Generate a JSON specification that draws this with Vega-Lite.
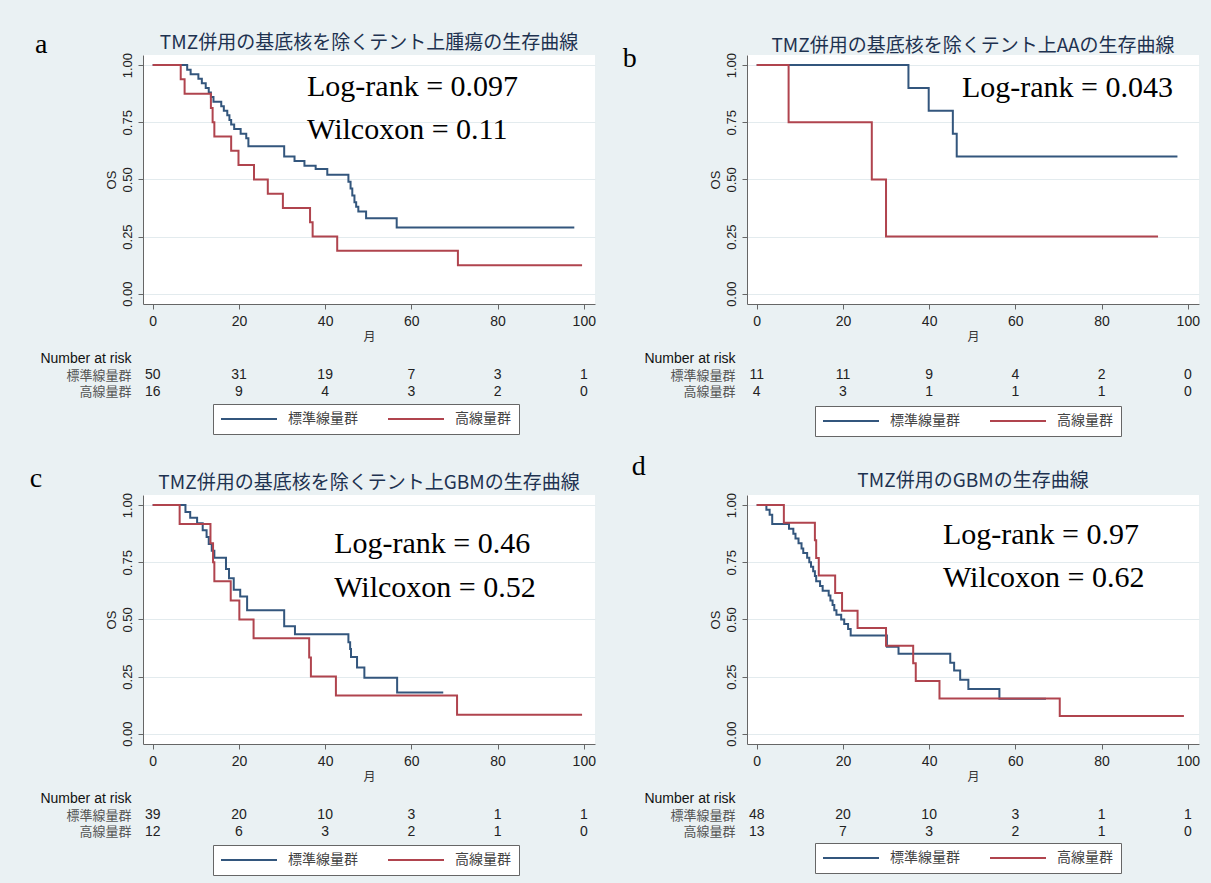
{
  "$schema": "https://vega.github.io/schema/vega-lite/v6.json",
  "autosize": {"type": "none"},
  "padding": {"left": 143, "top": 55, "right": 1068, "bottom": 828},
  "background": "#eaf1f3",
  "config": {
    "view": {"stroke": null},
    "axis": {"labelFont": "Liberation Sans", "titleFont": "Liberation Sans"}
  },
  "datasets": {
    "curves": [
      {"p":"a","g":"標準線量群","t":0,"s":1},{"p":"a","g":"標準線量群","t":8.0,"s":0.98},{"p":"a","g":"標準線量群","t":8.8,"s":0.96},{"p":"a","g":"標準線量群","t":10.6,"s":0.94},{"p":"a","g":"標準線量群","t":11.4,"s":0.92},{"p":"a","g":"標準線量群","t":12.3,"s":0.90},{"p":"a","g":"標準線量群","t":13.0,"s":0.88},{"p":"a","g":"標準線量群","t":13.5,"s":0.86},{"p":"a","g":"標準線量群","t":14.1,"s":0.84},{"p":"a","g":"標準線量群","t":15.9,"s":0.82},{"p":"a","g":"標準線量群","t":16.5,"s":0.80},{"p":"a","g":"標準線量群","t":17.3,"s":0.78},{"p":"a","g":"標準線量群","t":17.8,"s":0.76},{"p":"a","g":"標準線量群","t":18.2,"s":0.74},{"p":"a","g":"標準線量群","t":18.9,"s":0.72},{"p":"a","g":"標準線量群","t":20.4,"s":0.70},{"p":"a","g":"標準線量群","t":21.7,"s":0.68},{"p":"a","g":"標準線量群","t":22.2,"s":0.645},{"p":"a","g":"標準線量群","t":30.5,"s":0.60},{"p":"a","g":"標準線量群","t":32.9,"s":0.58},{"p":"a","g":"標準線量群","t":35.2,"s":0.56},{"p":"a","g":"標準線量群","t":37.8,"s":0.545},{"p":"a","g":"標準線量群","t":40.5,"s":0.52},{"p":"a","g":"標準線量群","t":45.4,"s":0.49},{"p":"a","g":"標準線量群","t":45.9,"s":0.46},{"p":"a","g":"標準線量群","t":46.3,"s":0.43},{"p":"a","g":"標準線量群","t":46.8,"s":0.40},{"p":"a","g":"標準線量群","t":47.2,"s":0.38},{"p":"a","g":"標準線量群","t":47.7,"s":0.36},{"p":"a","g":"標準線量群","t":49.5,"s":0.33},{"p":"a","g":"標準線量群","t":56.6,"s":0.29},{"p":"a","g":"標準線量群","t":97.8,"s":0.29},
      {"p":"a","g":"高線量群","t":0,"s":1},{"p":"a","g":"高線量群","t":6.5,"s":0.9375},{"p":"a","g":"高線量群","t":7.4,"s":0.875},{"p":"a","g":"高線量群","t":13.5,"s":0.8125},{"p":"a","g":"高線量群","t":13.9,"s":0.75},{"p":"a","g":"高線量群","t":14.3,"s":0.6875},{"p":"a","g":"高線量群","t":18.2,"s":0.625},{"p":"a","g":"高線量群","t":19.9,"s":0.5625},{"p":"a","g":"高線量群","t":23.5,"s":0.5},{"p":"a","g":"高線量群","t":26.7,"s":0.4375},{"p":"a","g":"高線量群","t":30.2,"s":0.375},{"p":"a","g":"高線量群","t":36.5,"s":0.3125},{"p":"a","g":"高線量群","t":37.1,"s":0.25},{"p":"a","g":"高線量群","t":42.8,"s":0.1875},{"p":"a","g":"高線量群","t":70.8,"s":0.125},{"p":"a","g":"高線量群","t":99.6,"s":0.125},
      {"p":"b","g":"標準線量群","t":0,"s":1},{"p":"b","g":"標準線量群","t":35.2,"s":0.9},{"p":"b","g":"標準線量群","t":39.9,"s":0.8},{"p":"b","g":"標準線量群","t":45.5,"s":0.7},{"p":"b","g":"標準線量群","t":46.4,"s":0.6},{"p":"b","g":"標準線量群","t":97.6,"s":0.6},
      {"p":"b","g":"高線量群","t":0,"s":1},{"p":"b","g":"高線量群","t":7.4,"s":0.75},{"p":"b","g":"高線量群","t":26.7,"s":0.5},{"p":"b","g":"高線量群","t":30.0,"s":0.25},{"p":"b","g":"高線量群","t":93.1,"s":0.25},
      {"p":"c","g":"標準線量群","t":0,"s":1},{"p":"c","g":"標準線量群","t":7.6,"s":0.97},{"p":"c","g":"標準線量群","t":8.7,"s":0.945},{"p":"c","g":"標準線量群","t":10.3,"s":0.92},{"p":"c","g":"標準線量群","t":11.6,"s":0.89},{"p":"c","g":"標準線量群","t":12.5,"s":0.86},{"p":"c","g":"標準線量群","t":13.0,"s":0.83},{"p":"c","g":"標準線量群","t":13.7,"s":0.80},{"p":"c","g":"標準線量群","t":14.3,"s":0.77},{"p":"c","g":"標準線量群","t":17.0,"s":0.72},{"p":"c","g":"標準線量群","t":17.7,"s":0.68},{"p":"c","g":"標準線量群","t":18.8,"s":0.63},{"p":"c","g":"標準線量群","t":20.3,"s":0.60},{"p":"c","g":"標準線量群","t":21.9,"s":0.54},{"p":"c","g":"標準線量群","t":30.5,"s":0.47},{"p":"c","g":"標準線量群","t":33.0,"s":0.435},{"p":"c","g":"標準線量群","t":45.4,"s":0.40},{"p":"c","g":"標準線量群","t":45.8,"s":0.37},{"p":"c","g":"標準線量群","t":46.0,"s":0.335},{"p":"c","g":"標準線量群","t":47.4,"s":0.29},{"p":"c","g":"標準線量群","t":49.1,"s":0.245},{"p":"c","g":"標準線量群","t":56.7,"s":0.18},{"p":"c","g":"標準線量群","t":67.4,"s":0.18},
      {"p":"c","g":"高線量群","t":0,"s":1},{"p":"c","g":"高線量群","t":6.25,"s":0.917},{"p":"c","g":"高線量群","t":13.4,"s":0.833},{"p":"c","g":"高線量群","t":14.0,"s":0.75},{"p":"c","g":"高線量群","t":14.3,"s":0.667},{"p":"c","g":"高線量群","t":18.1,"s":0.583},{"p":"c","g":"高線量群","t":20.1,"s":0.5},{"p":"c","g":"高線量群","t":23.4,"s":0.417},{"p":"c","g":"高線量群","t":36.3,"s":0.333},{"p":"c","g":"高線量群","t":36.7,"s":0.25},{"p":"c","g":"高線量群","t":42.5,"s":0.167},{"p":"c","g":"高線量群","t":70.6,"s":0.083},{"p":"c","g":"高線量群","t":99.6,"s":0.083},
      {"p":"d","g":"標準線量群","t":0,"s":1},{"p":"d","g":"標準線量群","t":2.25,"s":0.979},{"p":"d","g":"標準線量群","t":3.0,"s":0.958},{"p":"d","g":"標準線量群","t":3.6,"s":0.917},{"p":"d","g":"標準線量群","t":7.5,"s":0.896},{"p":"d","g":"標準線量群","t":8.5,"s":0.875},{"p":"d","g":"標準線量群","t":9.0,"s":0.854},{"p":"d","g":"標準線量群","t":9.7,"s":0.833},{"p":"d","g":"標準線量群","t":10.4,"s":0.81},{"p":"d","g":"標準線量群","t":10.8,"s":0.79},{"p":"d","g":"標準線量群","t":11.7,"s":0.77},{"p":"d","g":"標準線量群","t":12.2,"s":0.75},{"p":"d","g":"標準線量群","t":12.6,"s":0.73},{"p":"d","g":"標準線量群","t":13.1,"s":0.71},{"p":"d","g":"標準線量群","t":13.5,"s":0.69},{"p":"d","g":"標準線量群","t":13.8,"s":0.667},{"p":"d","g":"標準線量群","t":14.7,"s":0.646},{"p":"d","g":"標準線量群","t":15.3,"s":0.625},{"p":"d","g":"標準線量群","t":16.7,"s":0.604},{"p":"d","g":"標準線量群","t":17.1,"s":0.583},{"p":"d","g":"標準線量群","t":17.6,"s":0.563},{"p":"d","g":"標準線量群","t":18.0,"s":0.54},{"p":"d","g":"標準線量群","t":18.5,"s":0.52},{"p":"d","g":"標準線量群","t":19.6,"s":0.50},{"p":"d","g":"標準線量群","t":20.3,"s":0.48},{"p":"d","g":"標準線量群","t":21.2,"s":0.458},{"p":"d","g":"標準線量群","t":21.8,"s":0.43},{"p":"d","g":"標準線量群","t":30.2,"s":0.38},{"p":"d","g":"標準線量群","t":32.9,"s":0.35},{"p":"d","g":"標準線量群","t":44.9,"s":0.31},{"p":"d","g":"標準線量群","t":45.8,"s":0.276},{"p":"d","g":"標準線量群","t":47.2,"s":0.236},{"p":"d","g":"標準線量群","t":49.1,"s":0.196},{"p":"d","g":"標準線量群","t":56.3,"s":0.153},{"p":"d","g":"標準線量群","t":67.1,"s":0.153},
      {"p":"d","g":"高線量群","t":0,"s":1},{"p":"d","g":"高線量群","t":6.3,"s":0.923},{"p":"d","g":"高線量群","t":13.5,"s":0.846},{"p":"d","g":"高線量群","t":13.8,"s":0.769},{"p":"d","g":"高線量群","t":14.4,"s":0.692},{"p":"d","g":"高線量群","t":18.2,"s":0.615},{"p":"d","g":"高線量群","t":19.8,"s":0.538},{"p":"d","g":"高線量群","t":23.4,"s":0.462},{"p":"d","g":"高線量群","t":30.0,"s":0.385},{"p":"d","g":"高線量群","t":36.3,"s":0.308},{"p":"d","g":"高線量群","t":36.9,"s":0.231},{"p":"d","g":"高線量群","t":42.4,"s":0.154},{"p":"d","g":"高線量群","t":70.3,"s":0.077},{"p":"d","g":"高線量群","t":99.1,"s":0.077}
    ],
    "risk": [
      {"p":"a","g":"標準線量群","t":0,"n":50},{"p":"a","g":"標準線量群","t":20,"n":31},{"p":"a","g":"標準線量群","t":40,"n":19},{"p":"a","g":"標準線量群","t":60,"n":7},{"p":"a","g":"標準線量群","t":80,"n":3},{"p":"a","g":"標準線量群","t":100,"n":1},
      {"p":"a","g":"高線量群","t":0,"n":16},{"p":"a","g":"高線量群","t":20,"n":9},{"p":"a","g":"高線量群","t":40,"n":4},{"p":"a","g":"高線量群","t":60,"n":3},{"p":"a","g":"高線量群","t":80,"n":2},{"p":"a","g":"高線量群","t":100,"n":0},
      {"p":"b","g":"標準線量群","t":0,"n":11},{"p":"b","g":"標準線量群","t":20,"n":11},{"p":"b","g":"標準線量群","t":40,"n":9},{"p":"b","g":"標準線量群","t":60,"n":4},{"p":"b","g":"標準線量群","t":80,"n":2},{"p":"b","g":"標準線量群","t":100,"n":0},
      {"p":"b","g":"高線量群","t":0,"n":4},{"p":"b","g":"高線量群","t":20,"n":3},{"p":"b","g":"高線量群","t":40,"n":1},{"p":"b","g":"高線量群","t":60,"n":1},{"p":"b","g":"高線量群","t":80,"n":1},{"p":"b","g":"高線量群","t":100,"n":0},
      {"p":"c","g":"標準線量群","t":0,"n":39},{"p":"c","g":"標準線量群","t":20,"n":20},{"p":"c","g":"標準線量群","t":40,"n":10},{"p":"c","g":"標準線量群","t":60,"n":3},{"p":"c","g":"標準線量群","t":80,"n":1},{"p":"c","g":"標準線量群","t":100,"n":1},
      {"p":"c","g":"高線量群","t":0,"n":12},{"p":"c","g":"高線量群","t":20,"n":6},{"p":"c","g":"高線量群","t":40,"n":3},{"p":"c","g":"高線量群","t":60,"n":2},{"p":"c","g":"高線量群","t":80,"n":1},{"p":"c","g":"高線量群","t":100,"n":0},
      {"p":"d","g":"標準線量群","t":0,"n":48},{"p":"d","g":"標準線量群","t":20,"n":20},{"p":"d","g":"標準線量群","t":40,"n":10},{"p":"d","g":"標準線量群","t":60,"n":3},{"p":"d","g":"標準線量群","t":80,"n":1},{"p":"d","g":"標準線量群","t":100,"n":1},
      {"p":"d","g":"高線量群","t":0,"n":13},{"p":"d","g":"高線量群","t":20,"n":7},{"p":"d","g":"高線量群","t":40,"n":3},{"p":"d","g":"高線量群","t":60,"n":2},{"p":"d","g":"高線量群","t":80,"n":1},{"p":"d","g":"高線量群","t":100,"n":0}
    ],
    "notes": [
      {"p":"a","k":"stat","label":"Log-rank = 0.097","t":35.8,"s":0.904},
      {"p":"a","k":"stat","label":"Wilcoxon = 0.11","t":35.8,"s":0.716},
      {"p":"a","k":"letter","label":"a","t":-27.3,"s":1.051},
      {"p":"b","k":"stat","label":"Log-rank = 0.043","t":47.6,"s":0.90},
      {"p":"b","k":"letter","label":"b","t":-31.1,"s":0.99},
      {"p":"c","k":"stat","label":"Log-rank = 0.46","t":42.1,"s":0.830},
      {"p":"c","k":"stat","label":"Wilcoxon = 0.52","t":42.1,"s":0.637},
      {"p":"c","k":"letter","label":"c","t":-28.5,"s":1.080},
      {"p":"d","k":"stat","label":"Log-rank = 0.97","t":43.2,"s":0.869},
      {"p":"d","k":"stat","label":"Wilcoxon = 0.62","t":43.2,"s":0.681},
      {"p":"d","k":"letter","label":"d","t":-29.0,"s":1.131}
    ]
  },
  "columns": 2,
  "spacing": {"row": 46, "column": 152},
  "bounds": "flush",
  "resolve": {"scale": {"color": "independent"}},
  "concat": [
    {
      "title": {"text": "TMZ併用の基底核を除くテント上腫瘍の生存曲線", "font": "Noto Sans CJK JP", "fontSize": 19, "fontWeight": "normal", "color": "#1e3250", "anchor": "middle", "frame": "group", "offset": -22},
      "width": 452, "height": 249,
      "view": {"fill": "white", "stroke": null},
      "layer": [
        {
          "data": {"name": "curves"},
          "transform": [{"filter": "datum.p === 'a'"}],
          "mark": {"type": "line", "interpolate": "step-after", "strokeWidth": 2},
          "encoding": {
            "x": {"field": "t", "type": "quantitative", "scale": {"domain": [-2.25, 102.6], "nice": false, "zero": false},
              "axis": {"values": [0,20,40,60,80,100], "grid": false, "title": "月", "titleFont": "Noto Sans CJK JP", "titleFontSize": 12, "titleFontWeight": "normal", "titleColor": "#333", "titlePadding": 3, "labelFontSize": 14, "labelColor": "#222", "labelPadding": 5, "tickSize": 5, "tickColor": "#666", "domainColor": "#666"}},
            "y": {"field": "s", "type": "quantitative", "scale": {"domain": [-0.045, 1.044], "nice": false, "zero": false},
              "axis": {"values": [0,0.25,0.5,0.75,1], "format": ".2f", "labelAngle": -90, "labelAlign": "center", "labelBaseline": "bottom", "labelFontSize": 13, "labelColor": "#222", "labelPadding": 4, "tickSize": 5, "tickColor": "#666", "domainColor": "#666", "grid": true, "gridColor": "#e3ebee", "gridWidth": 1.2, "title": "OS", "titleFontSize": 13, "titleFontWeight": "normal", "titleColor": "#222", "titlePadding": 3}},
            "color": {"field": "g", "type": "nominal", "scale": {"domain": ["標準線量群","高線量群"], "range": ["#33567d","#b0444e"]},
              "legend": {"orient": "none", "legendX": 70, "legendY": 349, "direction": "horizontal", "title": null, "symbolType": "M-7,0H7", "symbolSize": 64, "symbolStrokeWidth": 2, "symbolOffset": 21, "labelOffset": 32, "labelFont": "Noto Sans CJK JP", "labelFontSize": 14, "labelColor": "#444", "columnPadding": 26, "padding": 8, "strokeColor": "#666", "fillColor": "white"}}
          }
        },
        {
          "data": {"name": "notes"},
          "transform": [{"filter": "datum.p === 'a' && datum.k === 'stat'"}],
          "mark": {"type": "text", "font": "Liberation Serif", "fontSize": 30, "align": "left", "baseline": "middle", "color": "#000"},
          "encoding": {"x": {"field": "t", "type": "quantitative"}, "y": {"field": "s", "type": "quantitative"}, "text": {"field": "label"}}
        },
        {
          "data": {"name": "notes"},
          "transform": [{"filter": "datum.p === 'a' && datum.k === 'letter'"}],
          "mark": {"type": "text", "font": "Liberation Serif", "fontSize": 28, "align": "left", "baseline": "alphabetic", "color": "#000"},
          "encoding": {"x": {"field": "t", "type": "quantitative"}, "y": {"field": "s", "type": "quantitative"}, "text": {"field": "label"}}
        }
      ]
    },
    {
      "title": {"text": "TMZ併用の基底核を除くテント上AAの生存曲線", "font": "Noto Sans CJK JP", "fontSize": 19, "fontWeight": "normal", "color": "#1e3250", "anchor": "middle", "frame": "group", "offset": -11},
      "width": 452, "height": 249,
      "view": {"fill": "white", "stroke": null},
      "layer": [
        {
          "data": {"name": "curves"},
          "transform": [{"filter": "datum.p === 'b'"}],
          "mark": {"type": "line", "interpolate": "step-after", "strokeWidth": 2},
          "encoding": {
            "x": {"field": "t", "type": "quantitative", "scale": {"domain": [-2.25, 102.6], "nice": false, "zero": false},
              "axis": {"values": [0,20,40,60,80,100], "grid": false, "title": "月", "titleFont": "Noto Sans CJK JP", "titleFontSize": 12, "titleFontWeight": "normal", "titleColor": "#333", "titlePadding": 3, "labelFontSize": 14, "labelColor": "#222", "labelPadding": 5, "tickSize": 5, "tickColor": "#666", "domainColor": "#666"}},
            "y": {"field": "s", "type": "quantitative", "scale": {"domain": [-0.045, 1.044], "nice": false, "zero": false},
              "axis": {"values": [0,0.25,0.5,0.75,1], "format": ".2f", "labelAngle": -90, "labelAlign": "center", "labelBaseline": "bottom", "labelFontSize": 13, "labelColor": "#222", "labelPadding": 4, "tickSize": 5, "tickColor": "#666", "domainColor": "#666", "grid": true, "gridColor": "#e3ebee", "gridWidth": 1.2, "title": "OS", "titleFontSize": 13, "titleFontWeight": "normal", "titleColor": "#222", "titlePadding": 3}},
            "color": {"field": "g", "type": "nominal", "scale": {"domain": ["標準線量群","高線量群"], "range": ["#33567d","#b0444e"]},
              "legend": {"orient": "none", "legendX": 68, "legendY": 351, "direction": "horizontal", "title": null, "symbolType": "M-7,0H7", "symbolSize": 64, "symbolStrokeWidth": 2, "symbolOffset": 21, "labelOffset": 32, "labelFont": "Noto Sans CJK JP", "labelFontSize": 14, "labelColor": "#444", "columnPadding": 26, "padding": 8, "strokeColor": "#666", "fillColor": "white"}}
          }
        },
        {
          "data": {"name": "notes"},
          "transform": [{"filter": "datum.p === 'b' && datum.k === 'stat'"}],
          "mark": {"type": "text", "font": "Liberation Serif", "fontSize": 30, "align": "left", "baseline": "middle", "color": "#000"},
          "encoding": {"x": {"field": "t", "type": "quantitative"}, "y": {"field": "s", "type": "quantitative"}, "text": {"field": "label"}}
        },
        {
          "data": {"name": "notes"},
          "transform": [{"filter": "datum.p === 'b' && datum.k === 'letter'"}],
          "mark": {"type": "text", "font": "Liberation Serif", "fontSize": 28, "align": "left", "baseline": "alphabetic", "color": "#000"},
          "encoding": {"x": {"field": "t", "type": "quantitative"}, "y": {"field": "s", "type": "quantitative"}, "text": {"field": "label"}}
        }
      ]
    },
    {
      "width": 452, "height": 99,
      "data": {"name": "risk"},
      "transform": [{"filter": "datum.p === 'a'"}],
      "mark": {"type": "text", "font": "Liberation Sans", "fontSize": 14, "color": "#222"},
      "encoding": {
        "x": {"field": "t", "type": "quantitative", "scale": {"domain": [-2.25, 102.6], "nice": false, "zero": false}, "axis": null},
        "y": {"field": "g", "type": "nominal", "scale": {"type": "point", "domain": ["Number at risk","標準線量群","高線量群"], "padding": 0.5, "range": [0, 50]},
          "axis": {"title": null, "domain": false, "ticks": false, "labelPadding": 12, "labelLimit": 300,
            "labelFontSize": {"condition": {"test": "datum.value === 'Number at risk'", "value": 14}, "value": 13},
            "labelFont": {"condition": {"test": "datum.value === 'Number at risk'", "value": "Liberation Sans"}, "value": "Noto Sans CJK JP"},
            "labelColor": {"condition": {"test": "datum.value === 'Number at risk'", "value": "#111"}, "value": "#555"}}},
        "text": {"field": "n", "type": "quantitative"}
      }
    },
    {
      "width": 452, "height": 99,
      "data": {"name": "risk"},
      "transform": [{"filter": "datum.p === 'b'"}],
      "mark": {"type": "text", "font": "Liberation Sans", "fontSize": 14, "color": "#222"},
      "encoding": {
        "x": {"field": "t", "type": "quantitative", "scale": {"domain": [-2.25, 102.6], "nice": false, "zero": false}, "axis": null},
        "y": {"field": "g", "type": "nominal", "scale": {"type": "point", "domain": ["Number at risk","標準線量群","高線量群"], "padding": 0.5, "range": [0, 50]},
          "axis": {"title": null, "domain": false, "ticks": false, "labelPadding": 12, "labelLimit": 300,
            "labelFontSize": {"condition": {"test": "datum.value === 'Number at risk'", "value": 14}, "value": 13},
            "labelFont": {"condition": {"test": "datum.value === 'Number at risk'", "value": "Liberation Sans"}, "value": "Noto Sans CJK JP"},
            "labelColor": {"condition": {"test": "datum.value === 'Number at risk'", "value": "#111"}, "value": "#555"}}},
        "text": {"field": "n", "type": "quantitative"}
      }
    },
    {
      "title": {"text": "TMZ併用の基底核を除くテント上GBMの生存曲線", "font": "Noto Sans CJK JP", "fontSize": 19, "fontWeight": "normal", "color": "#1e3250", "anchor": "middle", "frame": "group", "offset": -28},
      "width": 452, "height": 249,
      "view": {"fill": "white", "stroke": null},
      "layer": [
        {
          "data": {"name": "curves"},
          "transform": [{"filter": "datum.p === 'c'"}],
          "mark": {"type": "line", "interpolate": "step-after", "strokeWidth": 2},
          "encoding": {
            "x": {"field": "t", "type": "quantitative", "scale": {"domain": [-2.25, 102.6], "nice": false, "zero": false},
              "axis": {"values": [0,20,40,60,80,100], "grid": false, "title": "月", "titleFont": "Noto Sans CJK JP", "titleFontSize": 12, "titleFontWeight": "normal", "titleColor": "#333", "titlePadding": 3, "labelFontSize": 14, "labelColor": "#222", "labelPadding": 5, "tickSize": 5, "tickColor": "#666", "domainColor": "#666"}},
            "y": {"field": "s", "type": "quantitative", "scale": {"domain": [-0.045, 1.044], "nice": false, "zero": false},
              "axis": {"values": [0,0.25,0.5,0.75,1], "format": ".2f", "labelAngle": -90, "labelAlign": "center", "labelBaseline": "bottom", "labelFontSize": 13, "labelColor": "#222", "labelPadding": 4, "tickSize": 5, "tickColor": "#666", "domainColor": "#666", "grid": true, "gridColor": "#e3ebee", "gridWidth": 1.2, "title": "OS", "titleFontSize": 13, "titleFontWeight": "normal", "titleColor": "#222", "titlePadding": 3}},
            "color": {"field": "g", "type": "nominal", "scale": {"domain": ["標準線量群","高線量群"], "range": ["#33567d","#b0444e"]},
              "legend": {"orient": "none", "legendX": 70, "legendY": 350, "direction": "horizontal", "title": null, "symbolType": "M-7,0H7", "symbolSize": 64, "symbolStrokeWidth": 2, "symbolOffset": 21, "labelOffset": 32, "labelFont": "Noto Sans CJK JP", "labelFontSize": 14, "labelColor": "#444", "columnPadding": 26, "padding": 8, "strokeColor": "#666", "fillColor": "white"}}
          }
        },
        {
          "data": {"name": "notes"},
          "transform": [{"filter": "datum.p === 'c' && datum.k === 'stat'"}],
          "mark": {"type": "text", "font": "Liberation Serif", "fontSize": 30, "align": "left", "baseline": "middle", "color": "#000"},
          "encoding": {"x": {"field": "t", "type": "quantitative"}, "y": {"field": "s", "type": "quantitative"}, "text": {"field": "label"}}
        },
        {
          "data": {"name": "notes"},
          "transform": [{"filter": "datum.p === 'c' && datum.k === 'letter'"}],
          "mark": {"type": "text", "font": "Liberation Serif", "fontSize": 28, "align": "left", "baseline": "alphabetic", "color": "#000"},
          "encoding": {"x": {"field": "t", "type": "quantitative"}, "y": {"field": "s", "type": "quantitative"}, "text": {"field": "label"}}
        }
      ]
    },
    {
      "title": {"text": "TMZ併用のGBMの生存曲線", "font": "Noto Sans CJK JP", "fontSize": 19, "fontWeight": "normal", "color": "#1e3250", "anchor": "middle", "frame": "group", "offset": -38},
      "width": 452, "height": 249,
      "view": {"fill": "white", "stroke": null},
      "layer": [
        {
          "data": {"name": "curves"},
          "transform": [{"filter": "datum.p === 'd'"}],
          "mark": {"type": "line", "interpolate": "step-after", "strokeWidth": 2},
          "encoding": {
            "x": {"field": "t", "type": "quantitative", "scale": {"domain": [-2.25, 102.6], "nice": false, "zero": false},
              "axis": {"values": [0,20,40,60,80,100], "grid": false, "title": "月", "titleFont": "Noto Sans CJK JP", "titleFontSize": 12, "titleFontWeight": "normal", "titleColor": "#333", "titlePadding": 3, "labelFontSize": 14, "labelColor": "#222", "labelPadding": 5, "tickSize": 5, "tickColor": "#666", "domainColor": "#666"}},
            "y": {"field": "s", "type": "quantitative", "scale": {"domain": [-0.045, 1.044], "nice": false, "zero": false},
              "axis": {"values": [0,0.25,0.5,0.75,1], "format": ".2f", "labelAngle": -90, "labelAlign": "center", "labelBaseline": "bottom", "labelFontSize": 13, "labelColor": "#222", "labelPadding": 4, "tickSize": 5, "tickColor": "#666", "domainColor": "#666", "grid": true, "gridColor": "#e3ebee", "gridWidth": 1.2, "title": "OS", "titleFontSize": 13, "titleFontWeight": "normal", "titleColor": "#222", "titlePadding": 3}},
            "color": {"field": "g", "type": "nominal", "scale": {"domain": ["標準線量群","高線量群"], "range": ["#33567d","#b0444e"]},
              "legend": {"orient": "none", "legendX": 68, "legendY": 348, "direction": "horizontal", "title": null, "symbolType": "M-7,0H7", "symbolSize": 64, "symbolStrokeWidth": 2, "symbolOffset": 21, "labelOffset": 32, "labelFont": "Noto Sans CJK JP", "labelFontSize": 14, "labelColor": "#444", "columnPadding": 26, "padding": 8, "strokeColor": "#666", "fillColor": "white"}}
          }
        },
        {
          "data": {"name": "notes"},
          "transform": [{"filter": "datum.p === 'd' && datum.k === 'stat'"}],
          "mark": {"type": "text", "font": "Liberation Serif", "fontSize": 30, "align": "left", "baseline": "middle", "color": "#000"},
          "encoding": {"x": {"field": "t", "type": "quantitative"}, "y": {"field": "s", "type": "quantitative"}, "text": {"field": "label"}}
        },
        {
          "data": {"name": "notes"},
          "transform": [{"filter": "datum.p === 'd' && datum.k === 'letter'"}],
          "mark": {"type": "text", "font": "Liberation Serif", "fontSize": 28, "align": "left", "baseline": "alphabetic", "color": "#000"},
          "encoding": {"x": {"field": "t", "type": "quantitative"}, "y": {"field": "s", "type": "quantitative"}, "text": {"field": "label"}}
        }
      ]
    },
    {
      "width": 452, "height": 99,
      "data": {"name": "risk"},
      "transform": [{"filter": "datum.p === 'c'"}],
      "mark": {"type": "text", "font": "Liberation Sans", "fontSize": 14, "color": "#222"},
      "encoding": {
        "x": {"field": "t", "type": "quantitative", "scale": {"domain": [-2.25, 102.6], "nice": false, "zero": false}, "axis": null},
        "y": {"field": "g", "type": "nominal", "scale": {"type": "point", "domain": ["Number at risk","標準線量群","高線量群"], "padding": 0.5, "range": [0, 50]},
          "axis": {"title": null, "domain": false, "ticks": false, "labelPadding": 12, "labelLimit": 300,
            "labelFontSize": {"condition": {"test": "datum.value === 'Number at risk'", "value": 14}, "value": 13},
            "labelFont": {"condition": {"test": "datum.value === 'Number at risk'", "value": "Liberation Sans"}, "value": "Noto Sans CJK JP"},
            "labelColor": {"condition": {"test": "datum.value === 'Number at risk'", "value": "#111"}, "value": "#555"}}},
        "text": {"field": "n", "type": "quantitative"}
      }
    },
    {
      "width": 452, "height": 99,
      "data": {"name": "risk"},
      "transform": [{"filter": "datum.p === 'd'"}],
      "mark": {"type": "text", "font": "Liberation Sans", "fontSize": 14, "color": "#222"},
      "encoding": {
        "x": {"field": "t", "type": "quantitative", "scale": {"domain": [-2.25, 102.6], "nice": false, "zero": false}, "axis": null},
        "y": {"field": "g", "type": "nominal", "scale": {"type": "point", "domain": ["Number at risk","標準線量群","高線量群"], "padding": 0.5, "range": [0, 50]},
          "axis": {"title": null, "domain": false, "ticks": false, "labelPadding": 12, "labelLimit": 300,
            "labelFontSize": {"condition": {"test": "datum.value === 'Number at risk'", "value": 14}, "value": 13},
            "labelFont": {"condition": {"test": "datum.value === 'Number at risk'", "value": "Liberation Sans"}, "value": "Noto Sans CJK JP"},
            "labelColor": {"condition": {"test": "datum.value === 'Number at risk'", "value": "#111"}, "value": "#555"}}},
        "text": {"field": "n", "type": "quantitative"}
      }
    }
  ]
}
